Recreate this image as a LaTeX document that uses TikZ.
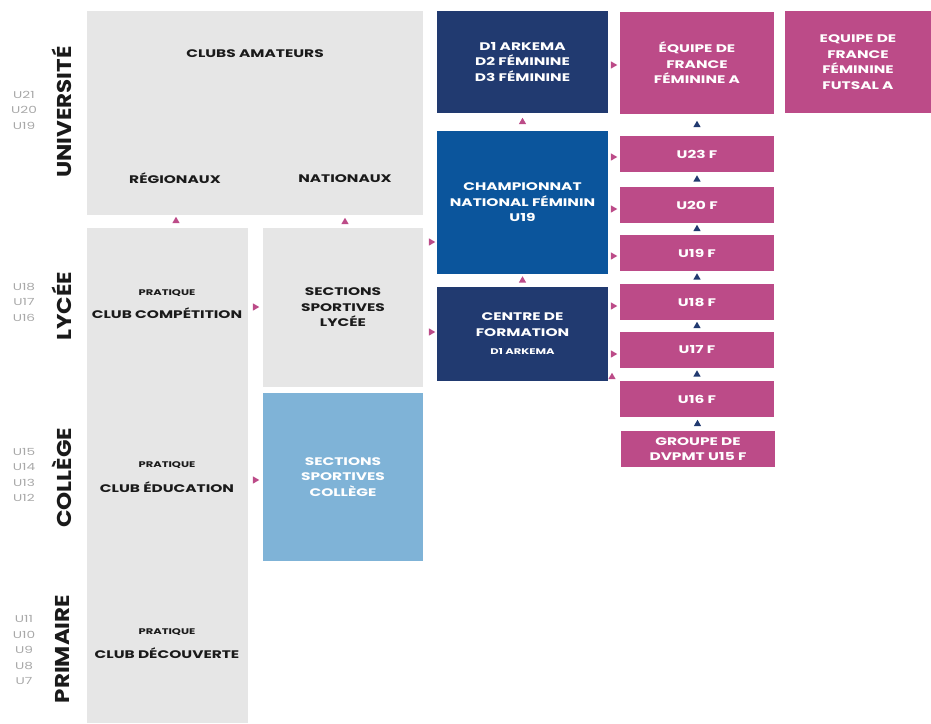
\documentclass[tikz,border=0pt]{standalone}
\usepackage{fontspec}
\setmainfont{Poppins}[FakeStretch=1.4]
\newfontfamily\headfont{Poppins}[FakeStretch=1.15]
\usetikzlibrary{shapes.geometric,calc}
\definecolor{boxgray}{HTML}{E6E6E6}
\definecolor{navy}{HTML}{213A70}
\definecolor{midblue}{HTML}{0B559C}
\definecolor{pinkc}{HTML}{BC4B88}
\definecolor{lightblue}{HTML}{7FB3D7}
\definecolor{agegray}{HTML}{A8A8A8}
\definecolor{textdark}{HTML}{1A1A1A}
\tikzset{
  blk/.style={draw=none,inner sep=0pt,outer sep=0pt},
  bxtxt/.style={align=center,font=\bfseries\fontsize{11}{15.5}\selectfont,inner sep=0pt},
  smalltxt/.style={font=\bfseries\fontsize{8.2}{9}\selectfont,inner sep=0pt},
  tri/.style={regular polygon,regular polygon sides=3,minimum size=8.5pt,inner sep=0pt,outer sep=0pt,draw=none},
  pup/.style={tri,fill=pinkc},
  pright/.style={tri,fill=pinkc,rotate=-90},
  nup/.style={tri,fill=navy},
  age/.style={align=center,text=agegray,font=\fontsize{9.8}{15.5}\selectfont,inner sep=0pt},
  level/.style={rotate=90,text=textdark,font=\headfont\bfseries\fontsize{20}{20}\selectfont,inner sep=0pt},
}
\begin{document}
\begin{tikzpicture}[x=1pt,y=-1pt]
\useasboundingbox (0,0) rectangle (931,723);
% big boxes
\node[blk,fill=boxgray,minimum width=336pt,minimum height=204pt] (amat) at (255,113) {};
\node[blk,fill=boxgray,minimum width=161pt,minimum height=495pt] (clubs) at (167.5,475.5) {};
\node[blk,fill=boxgray,minimum width=160pt,minimum height=159pt,bxtxt,text=textdark] (lycee) at (343,307.5) {SECTIONS\\SPORTIVES\\LYCÉE};
\node[blk,fill=lightblue,minimum width=160pt,minimum height=168pt,bxtxt,text=white] (college) at (343,477) {SECTIONS\\SPORTIVES\\COLLÈGE};
\node[blk,fill=navy,minimum width=171pt,minimum height=102pt,bxtxt,text=white] (d1) at (522.5,62) {D1 ARKEMA\\D2 FÉMININE\\D3 FÉMININE};
\node[blk,fill=midblue,minimum width=171pt,minimum height=143pt,bxtxt,text=white] (champ) at (522.5,202.5) {CHAMPIONNAT\\NATIONAL FÉMININ\\U19};
\node[blk,fill=navy,minimum width=171pt,minimum height=94pt,bxtxt,text=white] (centre) at (522.5,334) {CENTRE DE\\FORMATION\\[3pt]{\fontsize{8.2}{9}\selectfont D1 ARKEMA}};
\node[blk,fill=pinkc,minimum width=154pt,minimum height=102pt,bxtxt,text=white] (efa) at (697,63) {ÉQUIPE DE\\FRANCE\\FÉMININE A};
\node[blk,fill=pinkc,minimum width=146pt,minimum height=102pt,bxtxt,text=white] (futsal) at (858,62) {EQUIPE DE\\FRANCE\\FÉMININE\\FUTSAL A};
\node[blk,fill=pinkc,minimum width=154pt,minimum height=36pt,bxtxt,text=white] (u23) at (697,154) {U23 F};
\node[blk,fill=pinkc,minimum width=154pt,minimum height=36pt,bxtxt,text=white] (u20) at (697,205) {U20 F};
\node[blk,fill=pinkc,minimum width=154pt,minimum height=36pt,bxtxt,text=white] (u19) at (697,253) {U19 F};
\node[blk,fill=pinkc,minimum width=154pt,minimum height=36pt,bxtxt,text=white] (u18) at (697,302) {U18 F};
\node[blk,fill=pinkc,minimum width=154pt,minimum height=36pt,bxtxt,text=white] (u17) at (697,350) {U17 F};
\node[blk,fill=pinkc,minimum width=154pt,minimum height=36pt,bxtxt,text=white] (u16) at (697,399) {U16 F};
\node[blk,fill=pinkc,minimum width=154pt,minimum height=36pt,bxtxt,text=white] (grp) at (698,449) {GROUPE DE\\DVPMT U15 F};
% texts in grey areas
\node[bxtxt,text=textdark] (tamat) at (255,54) {CLUBS AMATEURS};
\node[bxtxt,text=textdark] (treg) at (175,178) {RÉGIONAUX};
\node[bxtxt,text=textdark] (tnat) at (345,179) {NATIONAUX};
\node[smalltxt,text=textdark] (p1) at (167,293) {PRATIQUE};
\node[bxtxt,text=textdark] (c1) at (167,313) {CLUB COMPÉTITION};
\node[smalltxt,text=textdark] (p2) at (167,465) {PRATIQUE};
\node[bxtxt,text=textdark] (c2) at (167,487) {CLUB ÉDUCATION};
\node[smalltxt,text=textdark] (p3) at (167,632) {PRATIQUE};
\node[bxtxt,text=textdark] (c3) at (167,653) {CLUB DÉCOUVERTE};
% level labels
\node[level] (lu) at (62,112) {UNIVERSITÉ};
\node[level] (ll) at (62,306) {LYCÉE};
\node[level] (lc) at (62,478) {COLLÈGE};
\node[level] (lp) at (62,649) {PRIMAIRE};
\node[age] (au) at (24,110) {U21\\U20\\U19};
\node[age] (al) at (24,302) {U18\\U17\\U16};
\node[age] (ac) at (24,475) {U15\\U14\\U13\\U12};
\node[age] (ap) at (24,650) {U11\\U10\\U9\\U8\\U7};
% pink up markers
\node[pup] (m1) at (176,221) {};
\node[pup] (m2) at (345,222) {};
\node[pup] (m3) at ($(d1.south)!0.5!(champ.north)$) {};
\node[pup] (m4) at ($(champ.south)!0.5!(centre.north)$) {};
\node[pup] (m5) at (612,377) {};
% pink right markers
\node[pright] (r1) at (255,307) {};
\node[pright] (r2) at (255,480) {};
\node[pright] (r3) at (431,242) {};
\node[pright] (r4) at (431,332) {};
\node[pright] (r5) at (613,65) {};
\node[pright] (r6) at (613,157) {};
\node[pright] (r7) at (613,209) {};
\node[pright] (r8) at (613,256) {};
\node[pright] (r9) at (613,306) {};
\node[pright] (r10) at (613,354) {};
% navy up markers
\node[nup] (n1) at ($(efa.south)!0.5!(u23.north)$) {};
\node[nup] (n2) at ($(u23.south)!0.5!(u20.north)$) {};
\node[nup] (n3) at ($(u20.south)!0.5!(u19.north)$) {};
\node[nup] (n4) at ($(u19.south)!0.5!(u18.north)$) {};
\node[nup] (n5) at ($(u18.south)!0.5!(u17.north)$) {};
\node[nup] (n6) at ($(u17.south)!0.5!(u16.north)$) {};
\node[nup] (n7) at ($(u16.south)!0.5!(grp.north)$) {};
\end{tikzpicture}
\end{document}
